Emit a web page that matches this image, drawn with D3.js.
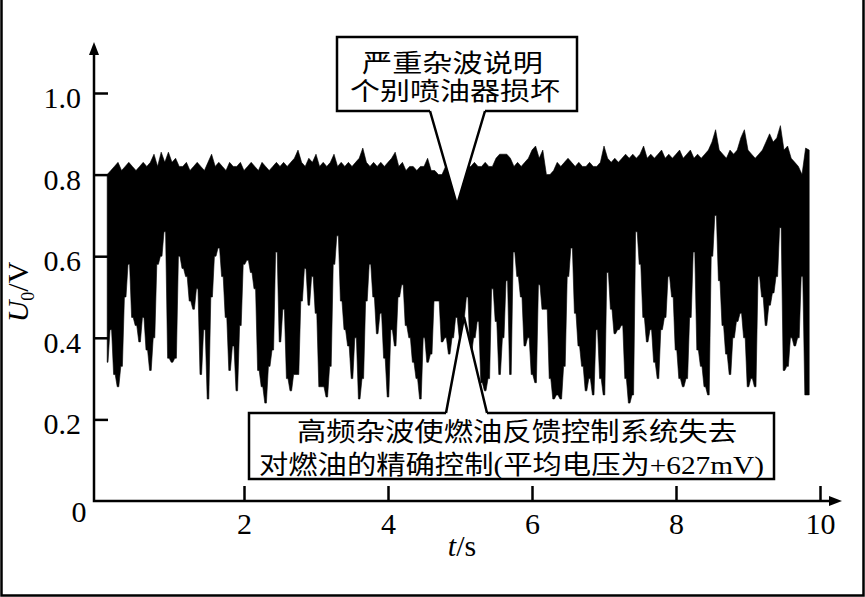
<!DOCTYPE html>
<html><head><meta charset="utf-8">
<script src="https://cdn.jsdelivr.net/npm/d3@7"></script>
<style>html,body{margin:0;padding:0;background:#fff;}svg{display:block;}</style>
</head><body>
<svg id="c" width="865" height="597"></svg>
<script>
// ---- data ----
const tStart = 0.10;   // first sample time, s
const dt = 0.05;       // sample spacing, s
const lowerV = [
0.34,0.42,0.31,0.28,0.33,0.50,0.58,0.45,0.43,0.39,
0.45,0.37,0.32,0.40,0.58,0.60,0.66,0.35,0.34,0.35,
0.60,0.57,0.55,0.49,0.47,0.52,0.31,0.42,0.25,0.50,
0.60,0.62,0.55,0.45,0.32,0.38,0.27,0.43,0.58,0.59,
0.56,0.52,0.32,0.28,0.24,0.33,0.37,0.61,0.39,0.47,
0.30,0.27,0.31,0.31,0.49,0.57,0.48,0.55,0.46,0.28,
0.28,0.255,0.33,0.58,0.65,0.49,0.42,0.38,0.30,0.40,
0.25,0.30,0.49,0.58,0.50,0.41,0.46,0.35,0.255,0.42,
0.38,0.50,0.53,0.43,0.40,0.34,0.30,0.25,0.40,0.34,
0.36,0.49,0.49,0.39,0.40,0.36,0.40,0.45,0.40,0.45,
0.50,0.36,0.40,0.44,0.29,0.27,0.30,0.52,0.44,0.31,
0.40,0.54,0.31,0.61,0.55,0.50,0.38,0.40,0.31,0.29,
0.53,0.47,0.47,0.30,0.25,0.26,0.25,0.33,0.55,0.62,
0.46,0.38,0.33,0.27,0.30,0.26,0.42,0.30,0.26,0.56,
0.47,0.41,0.42,0.43,0.30,0.24,0.26,0.66,0.58,0.45,
0.39,0.42,0.34,0.30,0.42,0.45,0.55,0.50,0.37,0.30,
0.28,0.30,0.45,0.61,0.37,0.33,0.28,0.26,0.60,0.70,
0.54,0.43,0.36,0.31,0.40,0.44,0.46,0.40,0.28,0.30,
0.28,0.55,0.50,0.43,0.48,0.51,0.55,0.67,0.32,0.33,
0.40,0.38,0.40,0.55,0.26,0.26];
const upperV = [
0.80,0.81,0.82,0.83,0.81,0.82,0.83,0.82,0.81,0.82,
0.83,0.82,0.83,0.85,0.82,0.855,0.83,0.855,0.83,0.84,
0.82,0.82,0.83,0.81,0.82,0.83,0.82,0.81,0.83,0.85,
0.82,0.83,0.82,0.81,0.83,0.82,0.82,0.83,0.81,0.82,
0.83,0.82,0.81,0.83,0.82,0.81,0.82,0.83,0.82,0.83,
0.82,0.83,0.84,0.86,0.83,0.82,0.84,0.83,0.85,0.82,
0.83,0.82,0.83,0.85,0.82,0.83,0.82,0.83,0.82,0.83,
0.84,0.865,0.83,0.82,0.83,0.82,0.83,0.82,0.83,0.84,
0.855,0.82,0.83,0.81,0.82,0.82,0.81,0.82,0.82,0.84,
0.81,0.81,0.80,0.80,0.82,0.81,0.83,0.82,0.82,0.83,
0.82,0.82,0.83,0.82,0.82,0.83,0.82,0.82,0.84,0.85,
0.85,0.85,0.84,0.82,0.83,0.82,0.83,0.84,0.86,0.87,
0.84,0.86,0.80,0.80,0.81,0.83,0.82,0.83,0.84,0.83,
0.82,0.83,0.82,0.82,0.83,0.82,0.82,0.83,0.87,0.84,
0.83,0.84,0.83,0.84,0.85,0.84,0.85,0.84,0.85,0.87,
0.84,0.85,0.84,0.85,0.86,0.84,0.85,0.84,0.85,0.86,
0.84,0.85,0.86,0.84,0.85,0.84,0.85,0.86,0.88,0.91,
0.86,0.85,0.84,0.86,0.85,0.86,0.89,0.91,0.86,0.85,
0.84,0.85,0.86,0.88,0.90,0.88,0.89,0.92,0.86,0.87,
0.84,0.83,0.82,0.80,0.865,0.86];
const xTicks = [2, 4, 6, 8, 10];
const yTicks = [0.2, 0.4, 0.6, 0.8, 1.0];
const xLabel = ["t", "/s"];
const yLabel = ["U", "0", "/V"];
const topNote = ["严重杂波说明", "个别喷油器损坏"];
const bottomNote = ["高频杂波使燃油反馈控制系统失去", "对燃油的精确控制(平均电压为+627mV)"];

// ---- drawing ----
const svg = d3.select("#c");
const x = d3.scaleLinear().domain([0, 10]).range([100, 820]);
const y = d3.scaleLinear().domain([0, 1]).range([501, 93]);
const serif = "'Liberation Serif','Times New Roman',serif";
const cjk = "'Liberation Serif','Noto Sans CJK SC',serif";

// outer frame (left, right, bottom)
svg.append("path").attr("d", "M1.5,0V595.5H863.5V0")
  .attr("fill", "none").attr("stroke", "#000").attr("stroke-width", 2.5);

// signal band: jagged top through the peaks, narrow flat-bottomed dips below
const data = lowerV.map((v, i) => ({t: tStart + i * dt, lo: v, hi: upperV[i]}));
const outline = [];
data.forEach(d => outline.push([d.t, d.hi]));
for (let i = data.length - 1; i >= 0; i--) {
  const d = data[i];
  outline.push([Math.min(d.t + dt * 0.22, data[data.length - 1].t), d.lo]);
  outline.push([Math.max(d.t - dt * 0.22, data[0].t), d.lo]);
}
svg.append("path")
  .attr("d", d3.line().x(p => x(p[0])).y(p => y(p[1]))(outline) + "Z")
  .attr("fill", "#000").attr("stroke", "#000").attr("stroke-width", 0.6);

// axes
const gx = svg.append("g").attr("transform", "translate(0,501)")
  .call(d3.axisBottom(x).tickValues(xTicks).tickFormat(d3.format("d"))
    .tickSizeInner(-15).tickSizeOuter(0).tickPadding(12));
const gy = svg.append("g").attr("transform", "translate(94,0)")
  .call(d3.axisLeft(y).tickValues(yTicks).tickFormat(d3.format(".1f"))
    .tickSizeInner(-14).tickSizeOuter(0).tickPadding(13));
[gx, gy].forEach(g => {
  g.select(".domain").remove();
  g.selectAll(".tick line").attr("stroke", "#000").attr("stroke-width", 2.5);
  g.selectAll(".tick text").attr("font-family", serif).attr("font-size", 30).attr("fill", "#000");
});
gy.selectAll(".tick text").attr("dy", "0.48em");

// axis lines with arrows
svg.append("path").attr("d", `M94,${y(0)+1.2}V52 M${x(0)-6},501H831`)
  .attr("stroke", "#000").attr("stroke-width", 2.5).attr("fill", "none");
svg.append("path").attr("d", "M94,42L89,55H99Z").attr("fill", "#000");
svg.append("path").attr("d", "M842,501L829,496V506Z").attr("fill", "#000");

svg.append("text").attr("x", 79).attr("y", 522).attr("text-anchor", "middle")
  .attr("font-family", serif).attr("font-size", 30).text("0");

// axis titles
const xt = svg.append("text").attr("x", 462).attr("y", 556).attr("text-anchor", "middle")
  .attr("font-family", serif).attr("font-size", 30);
xt.append("tspan").attr("font-style", "italic").text(xLabel[0]);
xt.append("tspan").text(xLabel[1]);
const yt = svg.append("text").attr("transform", "translate(28,292) rotate(-90)")
  .attr("text-anchor", "middle").attr("font-family", serif).attr("font-size", 30);
yt.append("tspan").attr("font-style", "italic").text(yLabel[0]);
yt.append("tspan").attr("font-size", 18).attr("dy", 6).text(yLabel[1]);
yt.append("tspan").attr("dy", -6).text(yLabel[2]);

// callouts
function callout(box, tip, base, lines, fs) {
  svg.append("rect").attr("x", box[0]).attr("y", box[1]).attr("width", box[2] - box[0]).attr("height", box[3] - box[1])
    .attr("fill", "#fff").attr("stroke", "#000").attr("stroke-width", 2.5);
  const by = base[2];
  const dir = tip[1] > by ? -1 : 1;
  svg.append("path").attr("d", `M${base[0]},${by + 2.5 * dir}L${base[0]},${by}L${tip[0]},${tip[1]}L${base[1]},${by}L${base[1]},${by + 2.5 * dir}Z`)
    .attr("fill", "#fff");
  svg.append("path").attr("d", `M${base[0]},${by}L${tip[0]},${tip[1]}L${base[1]},${by}`)
    .attr("fill", "none").attr("stroke", "#000").attr("stroke-width", 2.5).attr("stroke-linejoin", "miter");
  lines.forEach(l => {
    svg.append("text").attr("x", l.x).attr("y", l.y).attr("font-family", cjk).attr("font-size", fs)
      .attr("textLength", l.w).attr("lengthAdjust", "spacingAndGlyphs").attr("fill", "#000").text(l.s);
  });
}
callout([337, 37, 577, 111], [457, 205], [430, 485, 111], [
  {s: topNote[0], x: 362, y: 72, w: 181},
  {s: topNote[1], x: 350, y: 100, w: 210}], 25);
callout([249, 413, 774, 479], [464, 317], [446, 487, 413], [
  {s: bottomNote[0], x: 297, y: 441, w: 440},
  {s: bottomNote[1], x: 259, y: 474, w: 505}], 26);
</script>
</body></html>
